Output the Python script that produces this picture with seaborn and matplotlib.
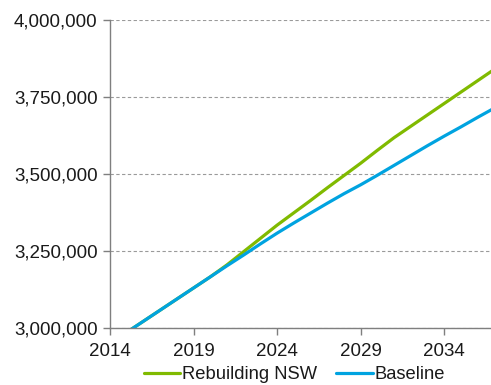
import matplotlib
matplotlib.use("Agg")
import matplotlib.pyplot as plt
import matplotlib.ticker as mticker
import pandas as pd
import seaborn as sns

years = list(range(2014, 2038))

rebuilding_nsw = [
    2950000, 2986000, 3022000, 3058000, 3094000, 3130000, 3166000,
    3205000, 3248000, 3291000, 3334000, 3374000, 3414000, 3455000,
    3495000, 3535000, 3577000, 3618000, 3655000, 3692000, 3729000,
    3766000, 3803000, 3840000,
]

baseline = [
    2950000, 2986000, 3022000, 3058000, 3094000, 3130000, 3166000,
    3202000, 3237000, 3273000, 3308000, 3341000, 3373000, 3405000,
    3436000, 3465000, 3496000, 3528000, 3560000, 3592000, 3623000,
    3653000, 3684000, 3714000,
]

series_names = ["Rebuilding NSW", "Baseline"]
series_colors = ["#80BA00", "#00A3E0"]
x_ticks = [2014, 2019, 2024, 2029, 2034]
y_ticks = [3000000, 3250000, 3500000, 3750000, 4000000]

df = pd.DataFrame({
    "year": years * 2,
    "value": rebuilding_nsw + baseline,
    "series": [series_names[0]] * len(years) + [series_names[1]] * len(years),
})

sns.set_theme(style="white")
plt.rcParams["font.family"] = ["Liberation Sans", "DejaVu Sans"]

fig = plt.figure(figsize=(4.91, 3.85), dpi=100)
ax = fig.add_axes([0.224, 0.148, 0.776, 0.800])

sns.lineplot(
    data=df, x="year", y="value", hue="series", hue_order=series_names,
    palette=series_colors, linewidth=2.3, ax=ax, legend=True,
)

ax.set_xlim(2014, 2036.8)
ax.set_ylim(3000000, 4000000)
ax.set_xticks(x_ticks)
ax.set_yticks(y_ticks)
ax.yaxis.set_major_formatter(mticker.FuncFormatter(lambda v, p: f"{int(v):,}"))
ax.set_xlabel("")
ax.set_ylabel("")

ax.yaxis.grid(True, linestyle=(0, (3.0, 2.2)), color="#9a9a9a", linewidth=0.8)
ax.xaxis.grid(False)
ax.set_axisbelow(True)

for side in ["top", "right"]:
    ax.spines[side].set_visible(False)
for side in ["left", "bottom"]:
    ax.spines[side].set_color("#7f7f7f")
    ax.spines[side].set_linewidth(1.0)

ax.tick_params(axis="both", which="major", direction="out", length=5,
               width=1.0, color="#7f7f7f", labelsize=13.5, labelcolor="#1a1a1a",
               left=True, bottom=True)
ax.tick_params(axis="y", pad=4)
ax.tick_params(axis="x", pad=6)

handles, labels = ax.get_legend_handles_labels()
ax.legend(
    handles, labels, loc="upper center", bbox_to_anchor=(0.484, -0.10),
    ncol=2, frameon=False, fontsize=13.2, handlelength=2.0,
    handletextpad=0.12, columnspacing=1.0, borderaxespad=0,
    labelcolor="#1a1a1a",
)

fig.savefig("out.png", dpi=100)
